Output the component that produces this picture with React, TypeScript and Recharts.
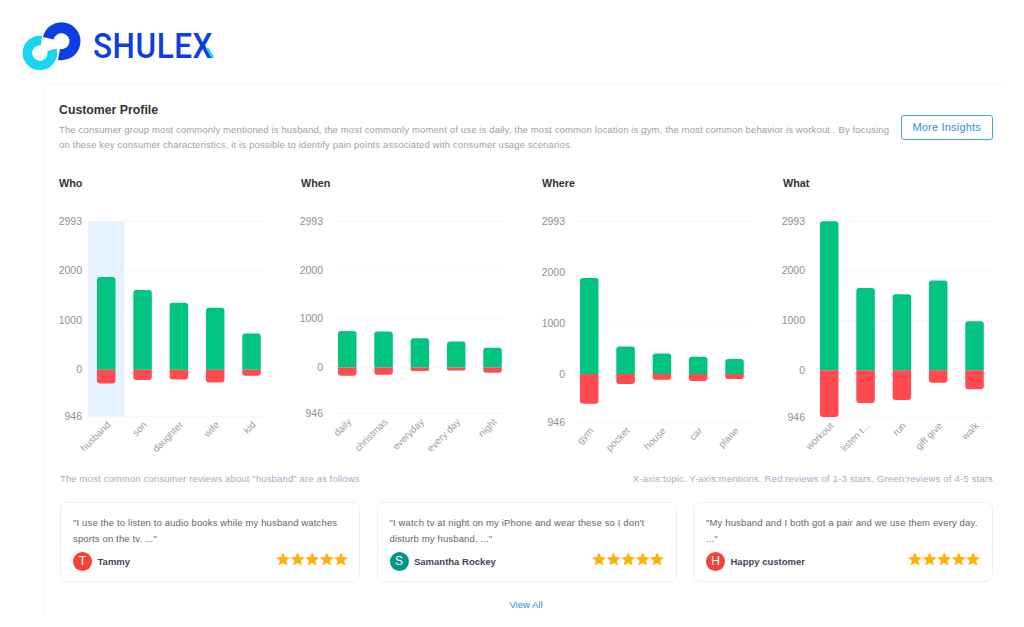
import React from "react";
import { BarChart, Bar, XAxis, YAxis, CartesianGrid, ReferenceArea } from "recharts";

const FONT = '"Liberation Sans", Arial, sans-serif';

const whoCategories = ["husband", "son", "daughter", "wife", "kid"];
const whoPositive = [1872, 1608, 1351, 1250, 730];
const whoNegative = [-277, -209, -196, -257, -122];

const whenCategories = ["daily", "christmas", "everyday", "every day", "night"];
const whenPositive = [748, 735, 599, 531, 401];
const whenNegative = [-170, -150, -75, -61, -109];

const whereCategories = ["gym", "pocket", "house", "car", "plane"];
const wherePositive = [1882, 542, 405, 340, 294];
const whereNegative = [-582, -196, -111, -137, -98];

const whatCategories = ["workout", "listen t...", "run", "gift give", "walk"];
const whatPositive = [2993, 1651, 1530, 1805, 987];
const whatNegative = [-940, -658, -597, -248, -383];

const yTicks = [-946, 0, 1000, 2000, 2993];

const reviewTexts = [
  ['"I use the to listen to audio books while my husband watches', 'sports on the tv. ..."'],
  ['"I watch tv at night on my iPhone and wear these so I don\'t', 'disturb my husband. ..."'],
  ['"My husband and I both got a pair and we use them every day.', '..."'],
];
const reviewers = ["Tammy", "Samantha Rockey", "Happy customer"];

const build = (c: string[], p: number[], n: number[]) =>
  c.map((name, i) => ({ name, positive: p[i], negative: n[i] }));

function T({ x, y, right, size = 11, color = "#333", weight = 400, ls = 0, center, children }: any) {
  const style: React.CSSProperties = {
    position: "absolute",
    top: y,
    transform: center ? "translate(-50%,-50%)" : "translateY(-50%)",
    whiteSpace: "pre",
    fontSize: size,
    color,
    fontWeight: weight,
    letterSpacing: ls,
    lineHeight: 1,
  };
  if (right !== undefined) style.right = 1024 - right;
  else style.left = x;
  return <div style={style}>{children}</div>;
}

const AXIS_W = 40;
const BAND_W = 181.6;
const CHART_TOP = 211;
const XH = 46;

function Panel({ title, titleX, left, bottom, data, highlight }: any) {
  const w = AXIS_W + BAND_W;
  const h = bottom - CHART_TOP + XH;
  return (
    <>
      <T x={titleX} y={183} size={10.8} weight={700} color="#333">{title}</T>
      <div style={{ position: "absolute", left: left - AXIS_W, top: CHART_TOP }}>
        <BarChart
          width={w}
          height={h}
          data={data}
          stackOffset="sign"
          barSize={18.5}
          margin={{ top: 10.3, right: 0, bottom: 0, left: 0 }}
        >
          {highlight ? (
            <ReferenceArea x1={highlight} x2={highlight} fill="#e6f2fe" fillOpacity={1} stroke="none" />
          ) : null}
          <CartesianGrid vertical={false} stroke="#f8f8f8" />
          <XAxis
            dataKey="name"
            interval={0}
            height={XH}
            axisLine={false}
            tickLine={false}
            tickSize={0}
            tickMargin={4}
            angle={-45}
            textAnchor="end"
            tick={{ fontSize: 9.8, fill: "#a0a0a0", fontFamily: FONT }}
          />
          <YAxis
            type="number"
            width={AXIS_W}
            domain={[-946, 2993]}
            ticks={yTicks}
            interval={0}
            axisLine={false}
            tickLine={false}
            tickSize={0}
            tickMargin={6}
            tickFormatter={(v: number) => String(Math.abs(v))}
            tick={{ fontSize: 10.5, fill: "#8f8f8f", fontFamily: FONT }}
          />
          <Bar dataKey="positive" stackId="s" fill="#00c47f" radius={[3, 3, 0, 0]} isAnimationActive={false} />
          <Bar dataKey="negative" stackId="s" fill="#ff4b4f" radius={[3, 3, 0, 0]} isAnimationActive={false} />
        </BarChart>
      </div>
    </>
  );
}

function Star({ x }: { x: number }) {
  return (
    <polygon
      transform={`translate(${x},0)`}
      points="7,0.3 9,5 14,5.4 10.2,8.7 11.4,13.6 7,11 2.6,13.6 3.8,8.7 0,5.4 5,5"
      fill="#ffb00a"
    />
  );
}

function Card({ left, width, lines, name, letter, avatar, starsX }: any) {
  return (
    <>
      <div
        style={{
          position: "absolute",
          left,
          top: 502,
          width,
          height: 80,
          boxSizing: "border-box",
          border: "1px solid #f0f0f0",
          borderRadius: 7,
          background: "#fff",
        }}
      />
      <T x={left + 13} y={523} size={9.5} color="#666" ls={0.14}>{lines[0]}</T>
      <T x={left + 13} y={538.5} size={9.5} color="#666" ls={0.14}>{lines[1]}</T>
      <div
        style={{
          position: "absolute",
          left: left + 13,
          top: 552,
          width: 19,
          height: 19,
          borderRadius: "50%",
          background: avatar,
          color: "#fff",
          fontSize: 12,
          lineHeight: "19px",
          textAlign: "center",
        }}
      >
        {letter}
      </div>
      <T x={left + 37.5} y={562} size={9.5} weight={700} color="#444454">{name}</T>
      <svg style={{ position: "absolute", left: starsX, top: 552 }} width={72} height={15}>
        {[0, 14.6, 29.2, 43.8, 58].map((x) => <Star key={x} x={x} />)}
      </svg>
    </>
  );
}

function Logo() {
  return (
    <>
      <svg style={{ position: "absolute", left: 0, top: 0 }} width={90} height={80}>
        <path d="M48.3 38.2 A13.5 13.5 0 1 1 59 54.5" fill="none" stroke="#0c3fe0" strokeWidth="11" />
        <path d="M41.5 40.6 A12.5 12.5 0 1 0 52 49.8" fill="none" stroke="#18d6ee" strokeWidth="9.5" />
      </svg>
      <div
        style={{
          position: "absolute",
          left: 93,
          top: 46,
          transform: "translateY(-50%) scaleX(0.9)",
          transformOrigin: "left center",
          fontFamily: "Roboto, sans-serif",
          fontSize: 35,
          fontWeight: 500,
          letterSpacing: 0.6,
          color: "#0c3fe0",
          lineHeight: 1,
        }}
      >
        SHULEX
      </div>
      <svg style={{ position: "absolute", left: 204, top: 47 }} width={12} height={13}>
        <path d="M3 1 L9 11" stroke="#18d6ee" strokeWidth="2.6" fill="none" />
      </svg>
    </>
  );
}

export default function App() {
  return (
    <div
      style={{
        position: "absolute",
        left: 0,
        top: 0,
        width: 1024,
        height: 627,
        overflow: "hidden",
        background: "#fff",
        fontFamily: FONT,
      }}
    >
      <Logo />
      <div
        style={{
          position: "absolute",
          left: 43,
          top: 84,
          width: 965,
          height: 538,
          boxSizing: "border-box",
          borderTop: "1px solid #f4f4f4",
          borderLeft: "1px solid #f4f4f4",
          borderRadius: 6,
        }}
      />
      <T x={59} y={110} size={12.3} weight={700} color="#333">Customer Profile</T>
      <T x={59} y={130} size={9.5} color="#a0a0a0" ls={0.14}>
        The consumer group most commonly mentioned is husband, the most commonly moment of use is daily, the most common location is gym, the most common behavior is workout . By focusing
      </T>
      <T x={59} y={145} size={9.5} color="#a0a0a0" ls={0.14}>
        on these key consumer characteristics, it is possible to identify pain points associated with consumer usage scenarios.
      </T>
      <div
        style={{
          position: "absolute",
          left: 900.5,
          top: 115,
          width: 92.5,
          height: 24.5,
          boxSizing: "border-box",
          border: "1px solid #4a9fe8",
          borderRadius: 3,
          color: "#2f8fe6",
          fontSize: 11,
          letterSpacing: 0.2,
          lineHeight: "22px",
          textAlign: "center",
        }}
      >
        More Insights
      </div>

      <Panel title="Who" titleX={59} left={88.2} bottom={416.6} data={build(whoCategories, whoPositive, whoNegative)} highlight="husband" />
      <Panel title="When" titleX={301} left={329.4} bottom={413.6} data={build(whenCategories, whenPositive, whenNegative)} />
      <Panel title="Where" titleX={542} left={570.7} bottom={422.4} data={build(whereCategories, wherePositive, whereNegative)} />
      <Panel title="What" titleX={783} left={811.3} bottom={417.4} data={build(whatCategories, whatPositive, whatNegative)} />

      <T x={60} y={479} size={9.5} color="#a3adc4" ls={0.14}>The most common consumer reviews about "husband" are as follows</T>
      <T right={993} y={479} size={9.6} color="#a3adc4" ls={0.14}>X-axis:topic. Y-axis:mentions. Red:reviews of 1-3 stars. Green:reviews of 4-5 stars</T>

      <Card left={60} width={300} lines={reviewTexts[0]} name={reviewers[0]} letter="T" avatar="#f44336" starsX={276} />
      <Card left={376.5} width={300} lines={reviewTexts[1]} name={reviewers[1]} letter="S" avatar="#009688" starsX={592} />
      <Card left={693} width={300} lines={reviewTexts[2]} name={reviewers[2]} letter="H" avatar="#f44336" starsX={908} />

      <T x={526} y={605} size={9.5} color="#2f8fe6" center>View All</T>
    </div>
  );
}
